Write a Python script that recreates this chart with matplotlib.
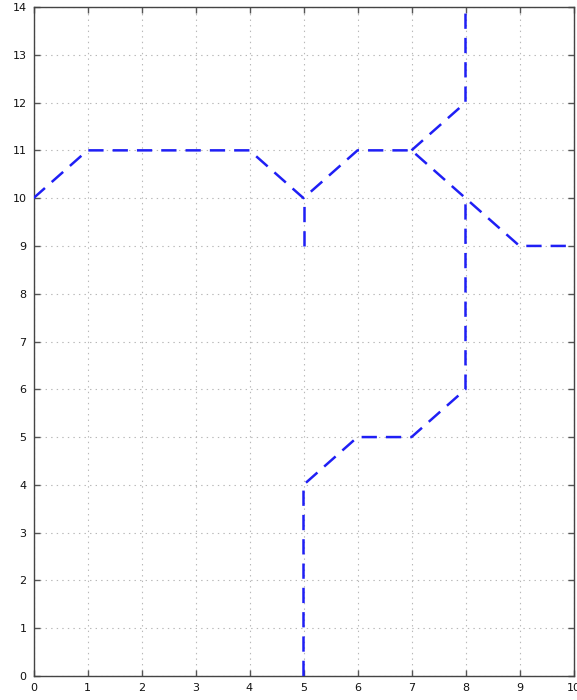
import matplotlib
matplotlib.use("Agg")
import matplotlib.pyplot as plt

plt.rcParams['lines.scale_dashes'] = False

# Polyline paths
path_a_x = [0, 1, 4, 5, 6, 7, 8, 9, 10]
path_a_y = [10, 11, 11, 10, 11, 11, 10, 9, 9]

path_b_x = [5, 5]
path_b_y = [9, 10]

path_c_x = [5, 5, 6, 7, 8, 8]
path_c_y = [0, 4, 5, 5, 6, 10]

path_d_x = [7, 8, 8]
path_d_y = [11, 12, 14]

x_ticks = list(range(0, 11))
y_ticks = list(range(0, 15))

fig = plt.figure(figsize=(5.77, 7.0), dpi=100)
ax = fig.add_axes([33.5 / 577, 1 - 676 / 700, (573.5 - 33.5) / 577, (676 - 7) / 700])

for xs, ys in [(path_a_x, path_a_y), (path_b_x, path_b_y),
               (path_c_x, path_c_y), (path_d_x, path_d_y)]:
    ax.plot(xs, ys, color='#1f1ff5', lw=1.8, linestyle=(0, (11, 6.5)),
            solid_capstyle='butt', dash_capstyle='butt', zorder=3)

ax.set_xlim(0, 10)
ax.set_ylim(0, 14)
ax.set_xticks(x_ticks)
ax.set_yticks(y_ticks)
ax.grid(True, color='#b8b8b8', linestyle=(0, (1, 3)), linewidth=0.8)
ax.tick_params(direction='in', top=True, right=True, length=4, width=1,
               labelsize=8, color='#555555', labelcolor='#111111', pad=5)
for s in ax.spines.values():
    s.set_color('#444444')
    s.set_linewidth(1)

fig.savefig('out.png', dpi=100)
